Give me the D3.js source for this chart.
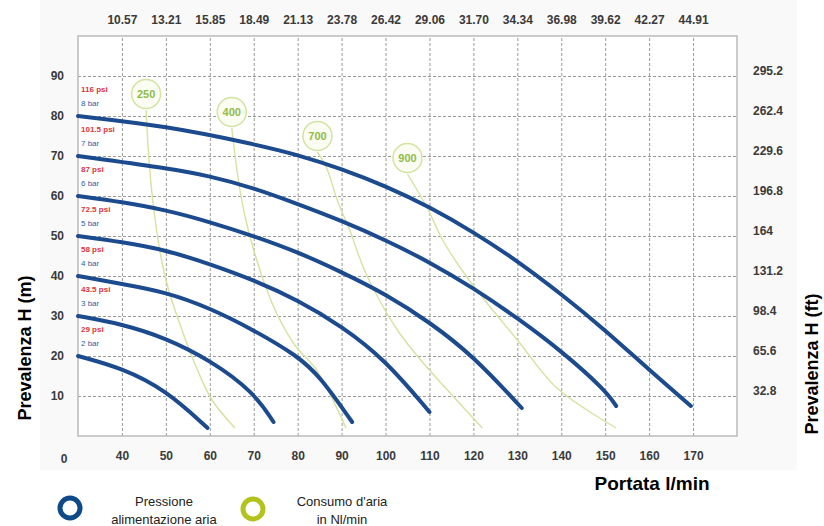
<!DOCTYPE html>
<html>
<head>
<meta charset="utf-8">
<script src="https://cdn.jsdelivr.net/npm/d3@7/dist/d3.min.js"></script>
<style>
  body { margin: 0; background: #fff; }
  text { font-family: "Liberation Sans", Arial, sans-serif; }
</style>
</head>
<body>
<div id="chart"></div>
<script>
// flow ticks (l/min) and matching US gallons labels on top
var flowTicks = [40, 50, 60, 70, 80, 90, 100, 110, 120, 130, 140, 150, 160, 170]
var gpmLabels = ["10.57", "13.21", "15.85", "18.49", "21.13", "23.78", "26.42", "29.06", "31.70", "34.34", "36.98", "39.62", "42.27", "44.91"]
var headTicks = [10, 20, 30, 40, 50, 60, 70, 80, 90]
var ftLabels = ["32.8", "65.6", "98.4", "131.2", "164", "196.8", "229.6", "262.4", "295.2"]

// air supply pressure curves
var barNames = ["8 bar", "7 bar", "6 bar", "5 bar", "4 bar", "3 bar", "2 bar"]
var psiNames = ["116 psi", "101.5 psi", "87 psi", "72.5 psi", "58 psi", "43.5 psi", "29 psi"]
var bar8Q = [30, 50, 70, 80, 90, 100, 110, 120, 130, 140, 150, 160, 169.5]
var bar8H = [80, 77.5, 73, 70.3, 66.8, 62.5, 57.3, 51, 43.8, 35.5, 26.5, 16.5, 7.5]
var bar7Q = [30, 50, 60, 70, 80, 90, 100, 110, 120, 130, 140, 150, 152.5]
var bar7H = [70, 67, 65, 62, 58, 53.8, 49, 43.5, 37, 29.5, 21.3, 11.5, 7.5]
var bar6Q = [30, 40, 50, 60, 70, 80, 90, 100, 110, 120, 131]
var bar6H = [60, 58.5, 56.5, 53.5, 50, 46, 41, 35.5, 28.5, 20, 7]
var bar5Q = [30, 40, 50, 60, 70, 80, 90, 100, 110]
var bar5H = [50, 48.5, 46.5, 43, 39, 34, 27.5, 19, 6]
var bar4Q = [30, 40, 50, 60, 70, 80, 85, 92.4]
var bar4H = [40, 38, 36, 32, 26.5, 20, 15, 3.5]
var bar3Q = [30, 40, 50, 60, 70, 74.5]
var bar3H = [30, 28, 24.5, 19, 11, 3.5]
var bar2Q = [30, 40, 50, 59.5]
var bar2H = [20, 17, 11.5, 2]

// air consumption curves (Nl/min)
var airNames = ["250", "400", "700", "900"]
var airLabelQ = [45.5, 65, 84.5, 105]
var airLabelH = [85.5, 81, 75, 69.5]
var air250Q = [45.5, 46, 47, 48.6, 50.5, 53.5, 57, 60.5, 65.7]
var air250H = [81.5, 71.5, 59, 46.5, 37, 27, 17, 9, 2]
var air400Q = [65, 66.5, 68, 70, 72.5, 75.5, 79.5, 84.3, 91]
var air400H = [77, 64, 55, 46.5, 38, 30, 22.5, 16.5, 2]
var air700Q = [84.5, 86.6, 89, 92, 95, 98.6, 103, 108, 114.5, 122]
var air700H = [71, 67, 59, 51, 42, 34, 26, 19, 11, 2]
var air900Q = [105, 109.5, 113, 119, 130, 139, 152.5]
var air900H = [65.5, 57, 49, 39, 24, 12, 2]

var barCurves = [[bar8Q, bar8H], [bar7Q, bar7H], [bar6Q, bar6H], [bar5Q, bar5H], [bar4Q, bar4H], [bar3Q, bar3H], [bar2Q, bar2H]]
var airCurves = [[air250Q, air250H], [air400Q, air400H], [air700Q, air700H], [air900Q, air900H]]

var width = 824, height = 526
var plotL = 78, plotR = 737, plotT = 36, plotB = 436

var blue = "#1b4a8e", green = "#d3e3a0", greenText = "#8fbc45"

var x = d3.scaleLinear().domain([30, 180]).range([plotL, plotR])
var y = d3.scaleLinear().domain([0, 100]).range([plotB, plotT])

var svg = d3.select("#chart").append("svg")
  .attr("width", width)
  .attr("height", height)

// light panel behind the chart
svg.append("rect")
  .attr("x", 40).attr("y", 0)
  .attr("width", 757).attr("height", 470)
  .attr("fill", "#f9f9f9")

svg.append("rect")
  .attr("x", plotL).attr("y", plotT)
  .attr("width", plotR - plotL).attr("height", plotB - plotT)
  .attr("fill", "#fff")

// grid
svg.append("g")
  .attr("class", "grid")
  .attr("transform", `translate(0,${plotB})`)
  .call(d3.axisBottom(x).tickValues(flowTicks).tickSize(-(plotB - plotT)).tickFormat(""))
svg.append("g")
  .attr("class", "grid")
  .attr("transform", `translate(${plotL},0)`)
  .call(d3.axisLeft(y).tickValues(headTicks).tickSize(-(plotR - plotL)).tickFormat(""))
svg.selectAll(".grid .domain").remove()
svg.selectAll(".grid .tick line")
  .attr("stroke", "#999")
  .attr("stroke-width", 1)
  .attr("stroke-dasharray", "3,2")

svg.append("rect")
  .attr("x", plotL).attr("y", plotT)
  .attr("width", plotR - plotL).attr("height", plotB - plotT)
  .attr("fill", "none")
  .attr("stroke", "#bbb")
  .attr("stroke-width", 1.5)

// tick labels
function styleLabels(g) {
  g.select(".domain").remove()
  g.selectAll("text")
    .attr("fill", "#3a3a3a")
    .style("font-size", "12px")
    .style("font-weight", "bold")
}

svg.append("g")
  .attr("transform", `translate(0,${plotB + 15})`)
  .call(d3.axisBottom(x).tickValues(flowTicks).tickSize(0).tickPadding(0))
  .call(styleLabels)

svg.append("text")
  .attr("x", x(30) - 14).attr("y", plotB + 27)
  .attr("text-anchor", "middle")
  .attr("fill", "#3a3a3a")
  .style("font-size", "12px").style("font-weight", "bold")
  .text("0")

svg.append("g")
  .attr("transform", `translate(0,${plotT - 12})`)
  .call(d3.axisTop(x).tickValues(flowTicks).tickSize(0).tickPadding(0)
    .tickFormat((d, i) => gpmLabels[i]))
  .call(styleLabels)

svg.append("g")
  .attr("transform", `translate(${plotL - 14},0)`)
  .call(d3.axisLeft(y).tickValues(headTicks).tickSize(0).tickPadding(0))
  .call(styleLabels)

svg.append("g")
  .attr("transform", `translate(${plotR + 16},-5)`)
  .call(d3.axisRight(y).tickValues(headTicks).tickSize(0).tickPadding(0)
    .tickFormat((d, i) => ftLabels[i]))
  .call(styleLabels)

// axis titles
svg.append("text")
  .attr("transform", `translate(31,348) rotate(-90)`)
  .attr("text-anchor", "middle")
  .style("font-size", "18px").style("font-weight", "bold")
  .text("Prevalenza H (m)")

svg.append("text")
  .attr("transform", `translate(818,364) rotate(-90)`)
  .attr("text-anchor", "middle")
  .style("font-size", "18px").style("font-weight", "bold")
  .text("Prevalenza H (ft)")

svg.append("text")
  .attr("x", 652).attr("y", 490)
  .attr("text-anchor", "middle")
  .style("font-size", "19px").style("font-weight", "bold")
  .text("Portata l/min")

var line = d3.line()
  .x(d => x(d[0]))
  .y(d => y(d[1]))
  .curve(d3.curveBasis)

var lineY = d3.line()
  .x(d => x(d[0]))
  .y(d => y(d[1]))
  .curve(d3.curveCatmullRom)

// air consumption lines
svg.append("g")
  .selectAll("path")
  .data(airCurves)
  .join("path")
  .attr("d", c => lineY(c[0].map((q, i) => [q, c[1][i]])))
  .attr("fill", "none")
  .attr("stroke", green)
  .attr("stroke-width", 1.4)

// pressure curves
svg.append("g")
  .selectAll("path")
  .data(barCurves)
  .join("path")
  .attr("d", c => line(c[0].map((q, i) => [q, c[1][i]])))
  .attr("fill", "none")
  .attr("stroke", blue)
  .attr("stroke-width", 4)
  .attr("stroke-linecap", "round")

// bar / psi labels
var lab = svg.append("g")
barCurves.forEach((c, i) => {
  lab.append("text")
    .attr("x", plotL + 3).attr("y", y(c[1][0]) - 24)
    .attr("fill", "#e0333c")
    .style("font-size", "8px")
    .style("font-weight", "bold")
    .text(psiNames[i])
  lab.append("text")
    .attr("x", plotL + 3).attr("y", y(c[1][0]) - 10)
    .attr("fill", "#2d5da5")
    .style("font-size", "8px")
    .text(barNames[i])
})

// air consumption badges
var badge = svg.append("g")
  .selectAll("g")
  .data(airNames)
  .join("g")
  .attr("transform", (d, i) => `translate(${x(airLabelQ[i])},${y(airLabelH[i])})`)
badge.append("circle")
  .attr("r", 14.5)
  .attr("fill", "#fbfdf3")
  .attr("stroke", green)
  .attr("stroke-width", 1.5)
badge.append("text")
  .attr("text-anchor", "middle")
  .attr("dy", "0.35em")
  .attr("fill", greenText)
  .style("font-size", "11px")
  .style("font-weight", "bold")
  .text(d => d)

// legend
var legend = svg.append("g")
legend.append("circle")
  .attr("cx", 70).attr("cy", 508).attr("r", 10)
  .attr("fill", "none").attr("stroke", "#0e4a8a").attr("stroke-width", 5)
legend.append("circle")
  .attr("cx", 253).attr("cy", 509).attr("r", 10)
  .attr("fill", "none").attr("stroke", "#b3c31c").attr("stroke-width", 5)
var legendText = [["Pressione", "alimentazione aria", 164], ["Consumo d'aria", "in Nl/min", 342]]
legendText.forEach(t => {
  legend.append("text")
    .attr("x", t[2]).attr("y", 506)
    .attr("text-anchor", "middle")
    .attr("fill", "#222")
    .style("font-size", "13px")
    .text(t[0])
  legend.append("text")
    .attr("x", t[2]).attr("y", 524)
    .attr("text-anchor", "middle")
    .attr("fill", "#222")
    .style("font-size", "13px")
    .text(t[1])
})
</script>
</body>
</html>
